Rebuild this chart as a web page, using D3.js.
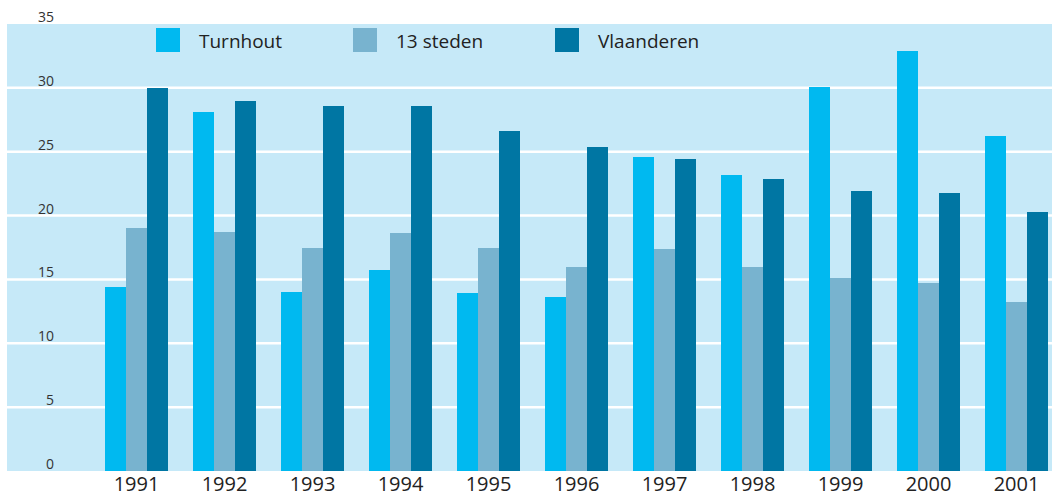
<!DOCTYPE html>
<html>
<head>
  <meta charset="utf-8">
  <script src="https://d3js.org/d3.v7.min.js"></script>
  <style>
    body { margin: 0; background: #fff; }
    text { font-family: "Open Sans", sans-serif; }
  </style>
</head>
<body>
<script type="text/javascript">

// data
var years = ["1991", "1992", "1993", "1994", "1995", "1996", "1997", "1998", "1999", "2000", "2001"];
var series = ["Turnhout", "13 steden", "Vlaanderen"];
var turnhout   = [14.4, 28.1, 14.0, 15.7, 13.9, 13.6, 24.6, 23.2, 30.1, 32.9, 26.2];
var steden13   = [19.0, 18.7, 17.5, 18.6, 17.5, 16.0, 17.4, 16.0, 15.1, 14.7, 13.2];
var vlaanderen = [30.0, 29.0, 28.6, 28.6, 26.6, 25.4, 24.4, 22.9, 21.9, 21.8, 20.3];
var yTicks = [0, 5, 10, 15, 20, 25, 30, 35];

var colors = ["#00b9f0", "#78b3cf", "#0076a3"];

function draw() {
    "use strict";
    var width = 1052, height = 497;

    var svg = d3.select("body")
        .append("svg")
        .attr("width", width)
        .attr("height", height);

    var y = d3.scaleLinear().domain([0, 35]).range([471, 24]);

    var x = d3.scaleBand()
        .domain(years)
        .range([80, 1073])
        .paddingInner(25 / 88)
        .paddingOuter(25 / 88);

    var xs = d3.scaleBand()
        .domain(series)
        .range([0, x.bandwidth()]);

    // background panel
    svg.append("rect")
        .attr("x", 7)
        .attr("y", y(35))
        .attr("width", width - 7)
        .attr("height", y(0) - y(35))
        .style("fill", "#c6e9f8");

    // gridlines
    svg.selectAll(".grid")
        .data(yTicks.filter(function (d) { return d > 0 && d < 35; }))
        .enter().append("line")
        .attr("class", "grid")
        .attr("x1", 7)
        .attr("x2", width)
        .attr("y1", function (d) { return y(d); })
        .attr("y2", function (d) { return y(d); })
        .style("stroke", "#fff")
        .style("stroke-width", 2.5);

    // y tick labels, sitting just above their line
    svg.selectAll(".ylab")
        .data(yTicks)
        .enter().append("text")
        .attr("class", "ylab")
        .attr("x", 54)
        .attr("y", function (d) { return y(d) - 2; })
        .style("text-anchor", "end")
        .style("font-size", "14px")
        .style("fill", "#333")
        .text(function (d) { return d; });

    // bars
    var values = [turnhout, steden13, vlaanderen];
    var rows = years.map(function (yr, i) {
        return series.map(function (s, j) {
            return { year: yr, series: s, value: values[j][i], color: colors[j] };
        });
    });

    var groups = svg.selectAll(".year")
        .data(rows)
        .enter().append("g")
        .attr("class", "year")
        .attr("transform", function (d, i) { return "translate(" + x(years[i]) + ",0)"; });

    groups.selectAll("rect")
        .data(function (d) { return d; })
        .enter().append("rect")
        .attr("x", function (d) { return xs(d.series); })
        .attr("width", xs.bandwidth())
        .attr("y", function (d) { return y(d.value); })
        .attr("height", function (d) { return y(0) - y(d.value); })
        .style("fill", function (d) { return d.color; })
        .style("shape-rendering", "crispEdges");

    // x axis labels
    var xAxis = d3.axisBottom(x).tickSize(0).tickPadding(0);
    var gx = svg.append("g")
        .attr("transform", "translate(0,491)")
        .call(xAxis);
    gx.select(".domain").remove();
    gx.selectAll("text")
        .attr("y", 0)
        .attr("dy", 0)
        .style("font-family", "'Open Sans', sans-serif")
        .style("font-size", "20px")
        .style("fill", "#222");

    // legend
    var legendX = [156, 353, 555];
    var legend = svg.selectAll(".legend")
        .data(series)
        .enter().append("g")
        .attr("class", "legend")
        .attr("transform", function (d, i) { return "translate(" + legendX[i] + ",28)"; });

    legend.append("rect")
        .attr("width", 24)
        .attr("height", 24)
        .style("fill", function (d, i) { return colors[i]; });

    legend.append("text")
        .attr("x", 43)
        .attr("y", 20)
        .style("font-size", "19px")
        .style("fill", "#222")
        .text(function (d) { return d; });
}

draw();

</script>
</body>
</html>
